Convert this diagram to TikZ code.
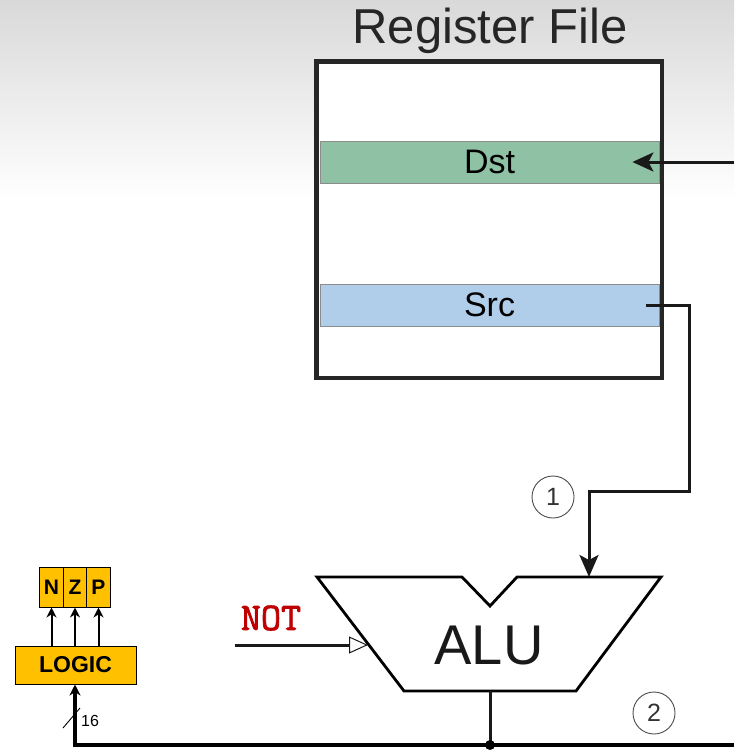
\documentclass[tikz,border=0pt]{standalone}
\usepackage{fontspec}
\setmainfont{Liberation Sans}
\newfontfamily\notfont[FakeBold=2]{Latin Modern Mono}
\usetikzlibrary{arrows.meta,calc}
\definecolor{dstgreen}{HTML}{8FC1A5}
\definecolor{srcblue}{HTML}{B0CDE9}
\definecolor{logicorange}{HTML}{FFC000}
\definecolor{notred}{HTML}{C00000}
\tikzset{
  regbox/.style={draw=black!85, line width=3pt, minimum width=344, minimum height=315, inner sep=0},
  band/.style={draw=black!45, line width=0.8pt, minimum width=339, minimum height=42, inner sep=0, font=\fontsize{34}{38}\selectfont},
  wire/.style={draw=black!90, line width=3pt},
  bus/.style={draw=black, line width=3.2pt},
  flagbox/.style={draw=black, line width=1pt, fill=logicorange, minimum width=23.5, minimum height=40, inner sep=0, font=\bfseries\fontsize{21}{24}\selectfont},
  logicbox/.style={draw=black, line width=1pt, fill=logicorange, minimum width=121, minimum height=38, inner sep=0, font=\bfseries\fontsize{23}{26}\selectfont},
  stepnum/.style={draw=black!70, line width=0.9pt, circle, minimum size=42, inner sep=0, font=\fontsize{25}{28}\selectfont, text=black!80},
}
\begin{document}
\begin{tikzpicture}[x=1pt,y=-1pt]
\useasboundingbox (0,0) rectangle (734,750);
\fill[white] (0,0) rectangle (734,750);
\shade[top color=black!15, bottom color=white] (0,0) rectangle (734,200);

% Register file
\node[font=\fontsize{49}{55}\selectfont, text=black!85] (title) at (490,31) {Register File};
\node[regbox, fill=white] (rf) at (489,219.5) {};
\node[band, fill=dstgreen] (dst) at (489.5,162) {Dst};
\node[band, fill=srcblue] (src) at (489.5,305) {Src};
\draw[regbox] (rf.north west) rectangle (rf.south east);

% ALU
\coordinate (atl) at (317,577);
\coordinate (an1) at (462,577);
\coordinate (anb) at (490,606);
\coordinate (an2) at (517,577);
\coordinate (atr) at (661,577);
\coordinate (abr) at (576,691);
\coordinate (abl) at (404,691);
\draw[line width=2.8pt, fill=white, line join=miter] (atl) -- (an1) -- (anb) -- (an2) -- (atr) -- (abr) -- (abl) -- cycle;
\node[font=\fontsize{56}{60}\selectfont, text=black!90] (alu) at (489,646) {ALU};
\coordinate (alutop) at (589,577);
\coordinate (aluleft) at (368,645);
\coordinate (aluout) at (490,691);

% Dst input
\coordinate (dstin) at (734,162);
\draw[wire, -{Stealth[length=21pt,width=19pt,inset=5pt]}] (dstin) -- ([xshift=-27]dst.east);

% Src to ALU
\coordinate (srcout) at ([xshift=-13]src.east);
\coordinate (bend) at (689,491);
\draw[wire, -{Stealth[length=22pt,width=19pt,inset=5pt]}] (srcout) -| (bend) -| (alutop);

% step circles
\node[stepnum] (c1) at (553,497) {1};
\node[stepnum] (c2) at (654,713) {2};

% NOT
\node[font=\notfont\fontsize{39}{40}\selectfont, text=notred] (notlbl) at (271,618) {NOT};
\coordinate (notin) at (235,645);
\draw[wire, -{Triangle[open,fill=white,length=19pt,width=17pt,line width=1pt]}] (notin) -- (aluleft);

% output bus
\coordinate (junc) at (490,745);
\coordinate (busright) at (734,745);
\coordinate (buscorner) at (75,745);
\draw[wire] (aluout) -- (junc);

% Logic & flags
\node[logicbox] (logic) at (75.5,665) {LOGIC};
\node[flagbox] (n) at (51.5,587) {N};
\node[flagbox] (z) at (75,587) {Z};
\node[flagbox] (p) at (98.5,587) {P};
\foreach \f in {n,z,p}{
  \draw[line width=2pt, -{Stealth[length=10pt,width=10pt]}] (logic.north -| \f.south) -- (\f.south);
}
\draw[bus, -{Stealth[length=11pt,width=11pt]}] (busright) -- (buscorner) -- (logic.south -| buscorner);
\fill (junc) circle (5);

% width slash
\coordinate (sl1) at (63,728);
\coordinate (sl2) at (80,708);
\draw[line width=0.9pt] (sl1) -- (sl2);
\node[font=\fontsize{16}{18}\selectfont, anchor=west, inner sep=0] (w16) at (81,721) {16};
\end{tikzpicture}
\end{document}
